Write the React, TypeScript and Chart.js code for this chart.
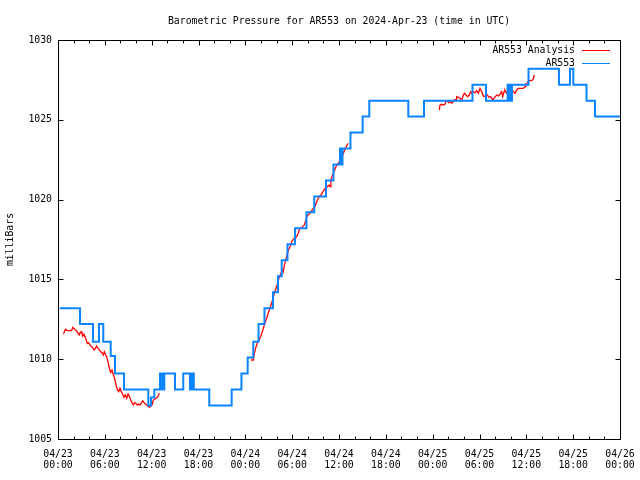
import React, { useEffect, useRef } from "react";
import { Chart, registerables } from "chart.js";

Chart.register(...registerables);

const TITLE = "Barometric Pressure for AR553 on 2024-Apr-23 (time in UTC)";
const Y_LABEL = "milliBars";
const SERIES_NAMES = ["AR553 Analysis", "AR553"];

const xTickDates = ["04/23", "04/23", "04/23", "04/23", "04/24", "04/24", "04/24", "04/24", "04/25", "04/25", "04/25", "04/25", "04/26"];
const xTickTimes = ["00:00", "06:00", "12:00", "18:00", "00:00", "06:00", "12:00", "18:00", "00:00", "06:00", "12:00", "18:00", "00:00"];
const yTicks = [1005, 1010, 1015, 1020, 1025, 1030];

// hours since 2024-04-23 00:00 UTC
const blueHours = [0.2, 2.82, 4.48, 5.25, 5.8, 6.75, 7.3, 8.46, 11.57, 11.91, 12.34, 13.07, 13.2, 13.35, 13.48, 13.62, 14.99, 16.05, 16.91, 17.0, 17.15, 17.25, 17.4, 19.38, 22.25, 23.5, 24.3, 25.02, 25.69, 26.45, 27.54, 28.18, 28.66, 29.4, 30.36, 31.83, 32.83, 34.33, 35.29, 36.13, 36.26, 36.45, 37.47, 39.03, 39.88, 44.88, 46.89, 53.1, 54.83, 57.6, 57.73, 57.99, 58.07, 58.16, 60.28, 64.18, 65.59, 66.02, 67.71, 68.8, 72];
const bluePressure = [1013.2, 1012.2, 1011.1, 1012.2, 1011.1, 1010.2, 1009.1, 1008.1, 1007.1, 1007.6, 1008.1, 1009.1, 1008.1, 1009.1, 1008.1, 1009.1, 1008.1, 1009.1, 1008.1, 1009.1, 1008.1, 1009.1, 1008.1, 1007.1, 1008.1, 1009.1, 1010.1, 1011.1, 1012.2, 1013.2, 1014.2, 1015.2, 1016.2, 1017.2, 1018.2, 1019.2, 1020.2, 1021.2, 1022.2, 1023.2, 1022.2, 1023.2, 1024.2, 1025.2, 1026.2, 1025.2, 1026.2, 1027.2, 1026.2, 1027.2, 1026.2, 1027.2, 1026.2, 1027.2, 1028.2, 1027.2, 1028.2, 1027.2, 1026.2, 1025.2, 1025.2];

const red1Hours = [0.68, 0.77, 0.9, 1.02, 1.2, 1.45, 1.75, 1.88, 2.05, 2.22, 2.39, 2.56, 2.73, 2.82, 2.95, 3.07, 3.2, 3.33, 3.46, 3.59, 3.76, 3.93, 4.1, 4.27, 4.44, 4.61, 4.78, 4.95, 5.12, 5.29, 5.47, 5.64, 5.81, 5.94, 6.06, 6.23, 6.4, 6.58, 6.75, 6.92, 7.09, 7.26, 7.43, 7.6, 7.77, 7.94, 8.11, 8.28, 8.45, 8.62, 8.8, 8.97, 9.14, 9.31, 9.48, 9.65, 9.82, 9.99, 10.16, 10.33, 10.5, 10.67, 10.85, 11.02, 11.19, 11.36, 11.53, 11.7, 11.87, 12.04, 12.21, 12.38, 12.55, 12.72, 12.89, 12.98];
const red1Pressure = [1011.58, 1011.66, 1011.83, 1011.87, 1011.79, 1011.79, 1011.79, 1012.0, 1011.93, 1011.83, 1011.79, 1011.62, 1011.52, 1011.66, 1011.73, 1011.58, 1011.45, 1011.56, 1011.41, 1011.25, 1010.99, 1011.04, 1010.89, 1010.79, 1010.74, 1010.58, 1010.66, 1010.83, 1010.68, 1010.58, 1010.47, 1010.41, 1010.26, 1010.47, 1010.33, 1010.16, 1009.85, 1009.43, 1009.16, 1009.32, 1009.01, 1008.8, 1008.38, 1008.11, 1007.97, 1008.18, 1007.97, 1007.82, 1007.61, 1007.76, 1007.55, 1007.82, 1007.69, 1007.44, 1007.28, 1007.13, 1007.28, 1007.23, 1007.13, 1007.19, 1007.13, 1007.23, 1007.4, 1007.28, 1007.19, 1007.13, 1007.07, 1006.99, 1007.07, 1007.13, 1007.44, 1007.49, 1007.55, 1007.61, 1007.76, 1007.86];

const red2Hours = [24.73, 25.03, 25.15, 25.32, 25.58, 25.75, 25.96, 26.18, 26.43, 26.65, 26.86, 27.07, 27.29, 27.5, 27.71, 27.93, 28.14, 28.36, 28.57, 28.74, 28.87, 29.0, 29.17, 29.34, 29.51, 29.72, 29.94, 30.15, 30.36, 30.58, 30.79, 30.92, 31.22, 31.56, 31.77, 31.9, 32.16, 32.41, 32.71, 32.92, 33.14, 33.44, 33.69, 33.95, 34.21, 34.5, 34.72, 34.85, 34.97, 35.19, 35.4, 35.61, 35.91, 36.13, 36.34, 36.47, 36.64, 36.9, 37.19];
const red2Pressure = [1009.95, 1009.95, 1010.37, 1010.68, 1011.1, 1011.2, 1011.41, 1011.73, 1012.14, 1012.46, 1012.77, 1013.08, 1013.4, 1013.71, 1014.13, 1014.44, 1014.75, 1015.17, 1015.38, 1015.59, 1015.48, 1015.9, 1016.21, 1016.53, 1016.84, 1017.05, 1017.36, 1017.51, 1017.57, 1017.68, 1017.89, 1018.14, 1018.26, 1018.41, 1018.72, 1018.97, 1019.1, 1019.24, 1019.45, 1019.56, 1019.87, 1020.18, 1020.29, 1020.5, 1020.71, 1020.81, 1020.91, 1020.81, 1021.27, 1021.54, 1021.81, 1022.06, 1022.27, 1022.44, 1022.59, 1022.79, 1023.0, 1023.3, 1023.53];

const red3Hours = [48.85, 48.94, 49.15, 49.36, 49.58, 49.71, 49.92, 50.05, 50.22, 50.43, 50.65, 50.77, 50.99, 51.07, 51.29, 51.5, 51.71, 51.93, 52.06, 52.27, 52.48, 52.69, 52.87, 53.0, 53.21, 53.42, 53.64, 53.85, 54.06, 54.28, 54.49, 54.7, 54.83, 55.0, 55.22, 55.43, 55.69, 55.86, 56.03, 56.2, 56.41, 56.62, 56.84, 56.97, 57.14, 57.26, 57.48, 57.69, 57.91, 58.12, 58.33, 58.55, 58.76, 58.97, 59.19, 59.61, 59.83, 59.95, 60.13, 60.3, 60.55, 60.81, 60.9, 61.02];
const red3Pressure = [1025.61, 1025.93, 1025.97, 1025.93, 1025.97, 1026.14, 1026.2, 1026.07, 1026.14, 1026.03, 1026.14, 1026.24, 1026.28, 1026.45, 1026.41, 1026.35, 1026.24, 1026.55, 1026.66, 1026.55, 1026.45, 1026.55, 1026.76, 1026.66, 1026.76, 1026.7, 1026.83, 1026.66, 1026.97, 1026.76, 1026.49, 1026.45, 1026.66, 1026.55, 1026.41, 1026.45, 1026.24, 1026.35, 1026.45, 1026.55, 1026.49, 1026.6, 1026.76, 1026.45, 1026.76, 1026.87, 1026.66, 1026.76, 1026.87, 1026.97, 1026.76, 1026.66, 1026.87, 1026.97, 1026.97, 1026.97, 1027.08, 1027.24, 1027.29, 1027.45, 1027.45, 1027.49, 1027.6, 1027.81];

const RED = "#ff0000";
const BLUE = "#0a84ff";
const FONT_FAMILY = "'DejaVu Sans Mono', monospace";
const FONT_SIZE = 9.8;

function pts(hs: number[], vs: number[]) {
  return hs.map((h, i) => ({ x: h, y: vs[i] }));
}

const gnuplotFrame = {
  id: "gnuplotFrame",
  afterDraw(chart: any) {
    const ctx = chart.ctx;
    const { left, right, top, bottom } = chart.chartArea;
    const xs = chart.scales.x;
    const ys = chart.scales.y;
    ctx.save();
    ctx.strokeStyle = "#000";
    ctx.lineWidth = 1;
    const L = Math.round(left) + 0.5;
    const R = Math.round(right) + 0.5;
    const T = Math.round(top) + 0.5;
    const B = Math.round(bottom) + 0.5;
    ctx.beginPath();
    ctx.rect(L, T, R - L, B - T);
    for (let h = 0; h <= 72; h += 2) {
      const px = Math.round(xs.getPixelForValue(h)) + 0.5;
      const len = h % 6 === 0 ? 5 : 3;
      ctx.moveTo(px, B);
      ctx.lineTo(px, B - len);
      ctx.moveTo(px, T);
      ctx.lineTo(px, T + len);
    }
    for (const v of yTicks) {
      const py = Math.round(ys.getPixelForValue(v)) + 0.5;
      ctx.moveTo(L, py);
      ctx.lineTo(L + 5, py);
      ctx.moveTo(R, py);
      ctx.lineTo(R - 5, py);
    }
    ctx.stroke();

    ctx.font = `${FONT_SIZE}px ${FONT_FAMILY}`;
    ctx.fillStyle = "#000";
    ctx.textBaseline = "middle";
    // title, centred over the plot area
    ctx.textAlign = "center";
    ctx.fillText(TITLE, (left + right) / 2, 21);

    // legend
    ctx.textAlign = "right";
    const colors = [RED, BLUE];
    SERIES_NAMES.forEach((name, i) => {
      const y = 50 + i * 13;
      ctx.fillText(name, 575, y);
      ctx.beginPath();
      ctx.strokeStyle = colors[i];
      ctx.lineWidth = 1;
      ctx.moveTo(582, y + 0.5);
      ctx.lineTo(610, y + 0.5);
      ctx.stroke();
    });
    ctx.restore();
  },
};

export default function App() {
  const ref = useRef<HTMLCanvasElement | null>(null);
  useEffect(() => {
    if (!ref.current) return;
    const font = { family: FONT_FAMILY, size: FONT_SIZE, lineHeight: "11px" };
    const redData = [
      ...pts(red1Hours, red1Pressure),
      { x: 13.5, y: null },
      ...pts(red2Hours, red2Pressure),
      { x: 45, y: null },
      ...pts(red3Hours, red3Pressure),
    ];
    const chart = new Chart(ref.current, {
      type: "line",
      data: {
        datasets: [
          {
            label: SERIES_NAMES[1],
            data: pts(blueHours, bluePressure),
            borderColor: BLUE,
            borderWidth: 2,
            stepped: "before",
            pointRadius: 0,
            fill: false,
          },
          {
            label: SERIES_NAMES[0],
            data: redData as any,
            borderColor: RED,
            borderWidth: 1.3,
            pointRadius: 0,
            spanGaps: false,
            tension: 0,
            fill: false,
          },
        ],
      },
      options: {
        animation: false,
        responsive: true,
        maintainAspectRatio: false,
        layout: { padding: { left: 0, right: 20, top: 40, bottom: 0 } },
        plugins: {
          legend: { display: false },
          tooltip: { enabled: false },
          title: { display: false },
        },
        scales: {
          x: {
            type: "linear",
            min: 0,
            max: 72,
            grid: { display: false, drawTicks: false },
            border: { display: false },
            ticks: {
              stepSize: 6,
              autoSkip: false,
              maxRotation: 0,
              minRotation: 0,
              padding: 10,
              color: "#000",
              font,
              callback: (v: any) => {
                const i = Math.round(Number(v) / 6);
                return [xTickDates[i], xTickTimes[i]];
              },
            },
            afterFit: (s: any) => {
              s.height = 41;
              s.paddingLeft = 0;
              s.paddingRight = 0;
            },
          },
          y: {
            min: 1005,
            max: 1030,
            grid: { display: false, drawTicks: false },
            border: { display: false },
            ticks: {
              stepSize: 5,
              padding: 6,
              color: "#000",
              font,
              callback: (v: any) => String(v),
            },
            title: {
              display: true,
              text: Y_LABEL,
              color: "#000",
              font: { family: FONT_FAMILY, size: FONT_SIZE, lineHeight: "12px" },
              padding: { top: 4, bottom: 0 },
            },
            afterFit: (s: any) => {
              s.width = 58;
              s.paddingTop = 0;
              s.paddingBottom = 0;
            },
          },
        },
      },
      plugins: [gnuplotFrame],
    });
    return () => chart.destroy();
  }, []);
  return (
    <div style={{ position: "absolute", left: 0, top: 0, width: 640, height: 480, background: "#fff" }}>
      <canvas ref={ref} />
    </div>
  );
}
